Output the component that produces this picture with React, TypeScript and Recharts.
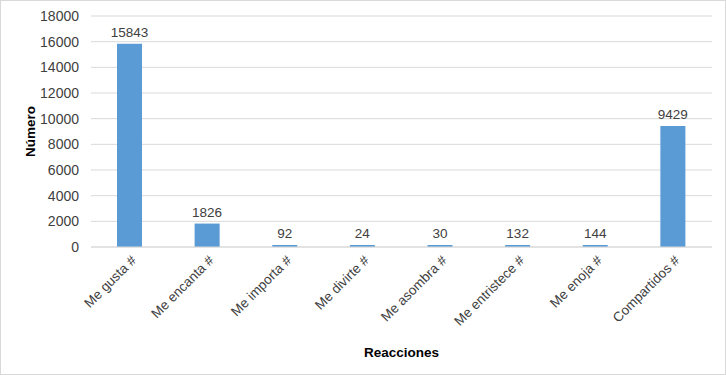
import { BarChart, Bar, XAxis, YAxis, CartesianGrid, LabelList, Label } from 'recharts';

const categories = ['Me gusta #', 'Me encanta #', 'Me importa #', 'Me divirte #', 'Me asombra #', 'Me entristece #', 'Me enoja #', 'Compartidos #'];
const counts = [15843, 1826, 92, 24, 30, 132, 144, 9429];
const yTicks = [0, 2000, 4000, 6000, 8000, 10000, 12000, 14000, 16000, 18000];

const data = categories.map((name, i) => ({ name, value: counts[i] }));

const FONT = '"Liberation Sans", Arial, sans-serif';

const RotatedTick = (props: any) => {
  const { x, y, payload } = props;
  return (
    <text
      x={x + 4}
      y={y + 3}
      transform={`rotate(-45, ${x + 4}, ${y + 3})`}
      textAnchor="end"
      dominantBaseline="central"
      fontSize={13.5}
      fontFamily={FONT}
      fill="#404040"
    >
      {payload.value}
    </text>
  );
};

export default function App() {
  return (
    <div style={{ position: 'fixed', top: 0, left: 0, width: 726, height: 375, boxSizing: 'border-box', border: '1px solid #d9d9d9', background: '#fff' }}>
      <BarChart
        width={724}
        height={373}
        data={data}
        margin={{ top: 15, right: 13, left: 0, bottom: 0 }}
        style={{ fontFamily: FONT }}
      >
        <CartesianGrid vertical={false} stroke="#d9d9d9" />
        <XAxis
          dataKey="name"
          interval={0}
          height={127}
          tickLine={false}
          axisLine={{ stroke: '#d9d9d9' }}
          tick={<RotatedTick />}
        >
          <Label value="Reacciones" position="insideBottom" offset={17} fontSize={13.5} fontWeight="bold" fill="#000" />
        </XAxis>
        <YAxis
          width={90}
          domain={[0, 18000]}
          ticks={yTicks}
          interval={0}
          tickLine={false}
          axisLine={false}
          tickMargin={6}
          tick={{ fontSize: 14, fill: '#404040', fontFamily: FONT }}
        >
          <Label
            content={({ viewBox }: any) => {
              const cx = 29;
              const cy = viewBox.y + viewBox.height / 2;
              return (
                <text x={cx} y={cy} transform={`rotate(-90, ${cx}, ${cy})`} textAnchor="middle" dominantBaseline="central" fontSize={13.5} fontWeight="bold" fontFamily={FONT} fill="#000">
                  Número
                </text>
              );
            }}
          />
        </YAxis>
        <Bar dataKey="value" fill="#5b9bd5" barSize={25} minPointSize={2} isAnimationActive={false}>
          <LabelList dataKey="value" position="top" offset={7} fontSize={13.5} fill="#404040" fontFamily={FONT} />
        </Bar>
      </BarChart>
    </div>
  );
}
